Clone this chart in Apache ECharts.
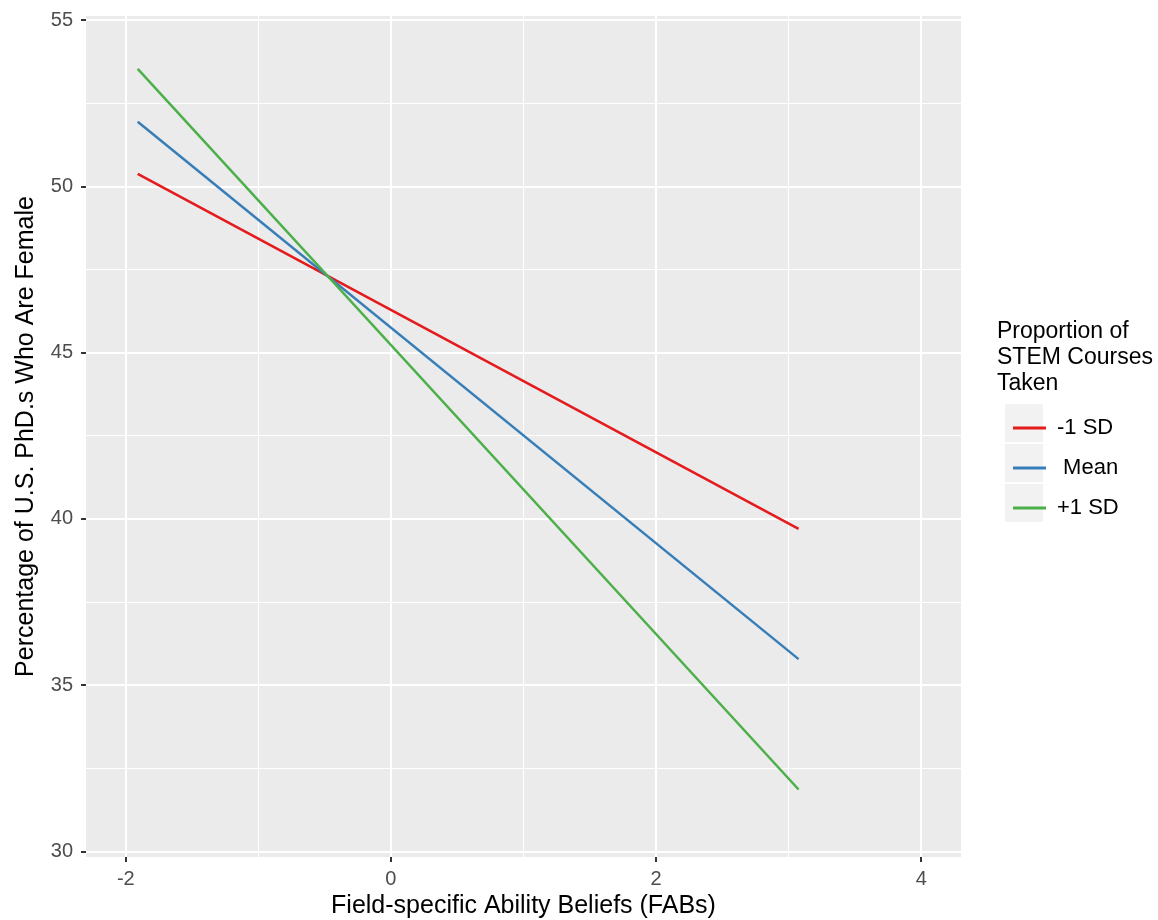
<!DOCTYPE html>
<html>
<head>
<meta charset="utf-8">
<script src="https://cdn.jsdelivr.net/npm/echarts@6/dist/echarts.min.js"></script>
<style>html,body{margin:0;padding:0;background:#fff}#c{width:1158px;height:920px}</style>
</head>
<body>
<div id="c"></div>
<script>
const fabs = [-1.91, 3.075];
const minusSD = [50.37, 39.70];
const meanSD = [51.94, 35.78];
const plusSD = [53.53, 31.86];
const seriesNames = ['-1 SD', ' Mean', '+1 SD'];
const xMajorTicks = [-2, 0, 2, 4];
const xMinorTicks = [-1, 1, 3];
const yMajorTicks = [30, 35, 40, 45, 50, 55];
const yMinorTicks = [32.5, 37.5, 42.5, 47.5, 52.5];

const FONT = '"Liberation Sans", Arial, Helvetica, sans-serif';
const colors = ['#E41A1C', '#377EB8', '#4DAF4A'];
const values = [minusSD, meanSD, plusSD];

const chart = echarts.init(document.getElementById('c'), null, {renderer: 'canvas'});

const xRange = {min: -2.3, max: 4.3};
const yRange = {min: 29.83, max: 55.12};

const option = {
  backgroundColor: '#ffffff',
  animation: false,
  color: colors,
  textStyle: {fontFamily: FONT},
  grid: {
    left: 86, top: 16, right: 197, bottom: 63,
    containLabel: false, outerBoundsMode: 'none',
    show: true, backgroundColor: '#EBEBEB', borderWidth: 0
  },
  title: {
    text: 'Proportion of\nSTEM Courses\nTaken',
    left: 992, top: 314,
    textStyle: {fontFamily: FONT, fontSize: 23, fontWeight: 'normal', color: '#000', lineHeight: 26}
  },
  legend: {
    orient: 'vertical',
    left: 1008, top: 412,
    icon: 'rect',
    itemWidth: 33, itemHeight: 3,
    itemGap: 18,
    textStyle: {fontFamily: FONT, fontSize: 22, color: '#000', lineHeight: 22, padding: [0, 0, 0, 6]},
    data: seriesNames
  },
  graphic: [0, 1, 2].map(i => ({
    type: 'rect', left: 1005, top: 404 + i * 40, z: -1,
    shape: {width: 38, height: 38},
    style: {fill: '#F2F2F2'}
  })),
  xAxis: [{
    type: 'value', ...xRange,
    name: 'Field-specific Ability Beliefs (FABs)',
    nameLocation: 'middle', nameGap: 37,
    nameTextStyle: {fontFamily: FONT, fontSize: 25, color: '#000'},
    axisLine: {show: false, onZero: false},
    axisTick: {show: true, length: 5, customValues: xMajorTicks, lineStyle: {color: '#333', width: 2}},
    axisLabel: {customValues: xMajorTicks, margin: 12, fontFamily: FONT, fontSize: 20, color: '#4D4D4D'},
    splitLine: {show: true, lineStyle: {color: '#ffffff', width: 2}}
  }, {
    type: 'value', ...xRange, position: 'bottom',
    axisLine: {show: false, onZero: false},
    axisTick: {show: false, customValues: xMinorTicks},
    axisLabel: {show: false, customValues: xMinorTicks},
    splitLine: {show: true, lineStyle: {color: '#ffffff', width: 1}}
  }],
  yAxis: [{
    type: 'value', ...yRange,
    name: 'Percentage of U.S. PhD.s Who Are Female',
    nameLocation: 'middle', nameGap: 47,
    nameTextStyle: {fontFamily: FONT, fontSize: 25, color: '#000'},
    axisLine: {show: false, onZero: false},
    axisTick: {show: true, length: 5, customValues: yMajorTicks, lineStyle: {color: '#333', width: 2}},
    axisLabel: {customValues: yMajorTicks, margin: 13, fontFamily: FONT, fontSize: 20, color: '#4D4D4D'},
    splitLine: {show: true, lineStyle: {color: '#ffffff', width: 2}}
  }, {
    type: 'value', ...yRange, position: 'left',
    axisLine: {show: false, onZero: false},
    axisTick: {show: false, customValues: yMinorTicks},
    axisLabel: {show: false, customValues: yMinorTicks},
    splitLine: {show: true, lineStyle: {color: '#ffffff', width: 1}}
  }],
  series: seriesNames.map((name, i) => ({
    name: name,
    type: 'line',
    xAxisIndex: 0, yAxisIndex: 0,
    symbol: 'none',
    lineStyle: {color: colors[i], width: 2.5},
    itemStyle: {color: colors[i]},
    data: fabs.map((x, j) => [x, values[i][j]])
  }))
};
chart.setOption(option);
</script>
</body>
</html>
